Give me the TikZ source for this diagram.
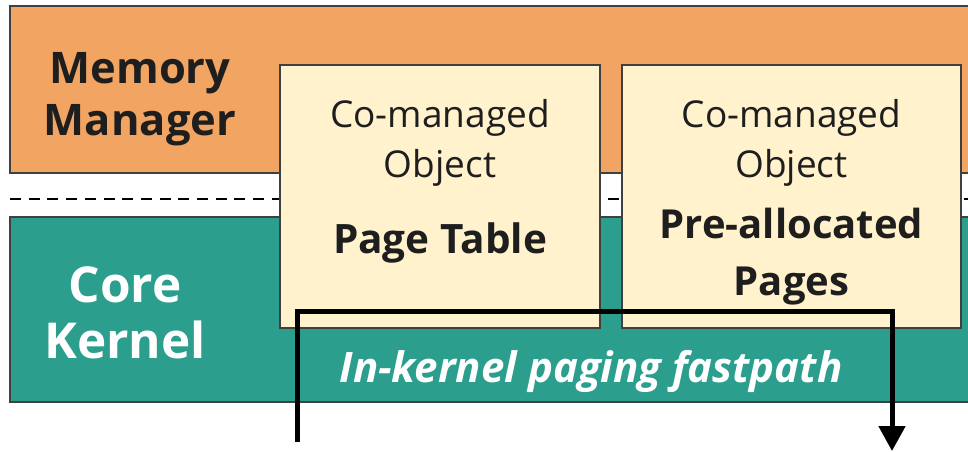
\documentclass[tikz,border=0pt]{standalone}
\usepackage{fontspec}
\setmainfont{Open Sans}
\usetikzlibrary{arrows.meta}
\definecolor{mmorange}{HTML}{F2A462}
\definecolor{ckteal}{HTML}{2B9E8D}
\definecolor{cocream}{HTML}{FFF2CC}
\definecolor{edgegray}{HTML}{404040}
\definecolor{inkblack}{HTML}{1E1E1E}
\tikzset{
  layer/.style={draw=edgegray, line width=1.5pt},
  cobox/.style={draw=edgegray, line width=1.5pt, fill=cocream, rectangle,
    inner sep=0pt, minimum height=263pt},
  lbl/.style={anchor=base, inner sep=0pt, text=inkblack},
  flow/.style={line width=5pt, black, -{Triangle[length=25pt,width=26pt]}}
}
\begin{document}
\begin{tikzpicture}[x=1pt,y=-1pt]
\useasboundingbox (0,0) rectangle (968,451);
\fill[white] (0,0) rectangle (968,451);

% privilege layers
\fill[mmorange, layer] (10,6) rectangle (980,173);
\fill[ckteal, layer] (10,217) rectangle (980,402);
\draw[line width=2pt, dash pattern=on 11pt off 7.7pt] (10,199) -- (968,199);

% layer labels
\node[lbl, font=\fontsize{43.5}{43.5}\selectfont\bfseries] (mm1) at (140,83) {Memory};
\node[lbl, font=\fontsize{43.5}{43.5}\selectfont\bfseries] (mm2) at (140,135) {Manager};
\node[lbl, text=white, font=\fontsize{49.5}{49.5}\selectfont\bfseries] (ck1) at (125,302) {Core};
\node[lbl, text=white, font=\fontsize{49.5}{49.5}\selectfont\bfseries] (ck2) at (125,358) {Kernel};

% co-managed objects
\node[cobox, minimum width=320pt] (pt) at (440,196.5) {};
\node[cobox, minimum width=339pt] (pa) at (791.5,196.5) {};

\node[lbl, font=\fontsize{37}{37}\selectfont] (pt1) at (pt.center |- 0,127) {Co-managed};
\node[lbl, font=\fontsize{37}{37}\selectfont] (pt2) at (pt.center |- 0,177) {Object};
\node[lbl, font=\fontsize{40.5}{40.5}\selectfont\bfseries] (pt3) at (pt.center |- 0,253) {Page Table};

\node[lbl, font=\fontsize{37}{37}\selectfont] (pa1) at (pa.center |- 0,127) {Co-managed};
\node[lbl, font=\fontsize{37}{37}\selectfont] (pa2) at (pa.center |- 0,177) {Object};
\node[lbl, font=\fontsize{40}{40}\selectfont\bfseries] (pa3) at (pa.center |- 0,238) {Pre-allocated};
\node[lbl, font=\fontsize{40}{40}\selectfont\bfseries] (pa4) at (pa.center |- 0,295) {Pages};

\node[lbl, text=white, font=\fontsize{42}{42}\selectfont\bfseries\itshape] (fp) at (591,382) {In-kernel paging fastpath};

% fastpath route
\coordinate (fpin) at (297,442);
\coordinate (fpa) at (297,311);
\coordinate (fpb) at (892,311);
\coordinate (fpout) at (892,451);
\draw[flow] (fpin) -- (fpa) -- (fpb) -- (fpout);
\end{tikzpicture}
\end{document}
